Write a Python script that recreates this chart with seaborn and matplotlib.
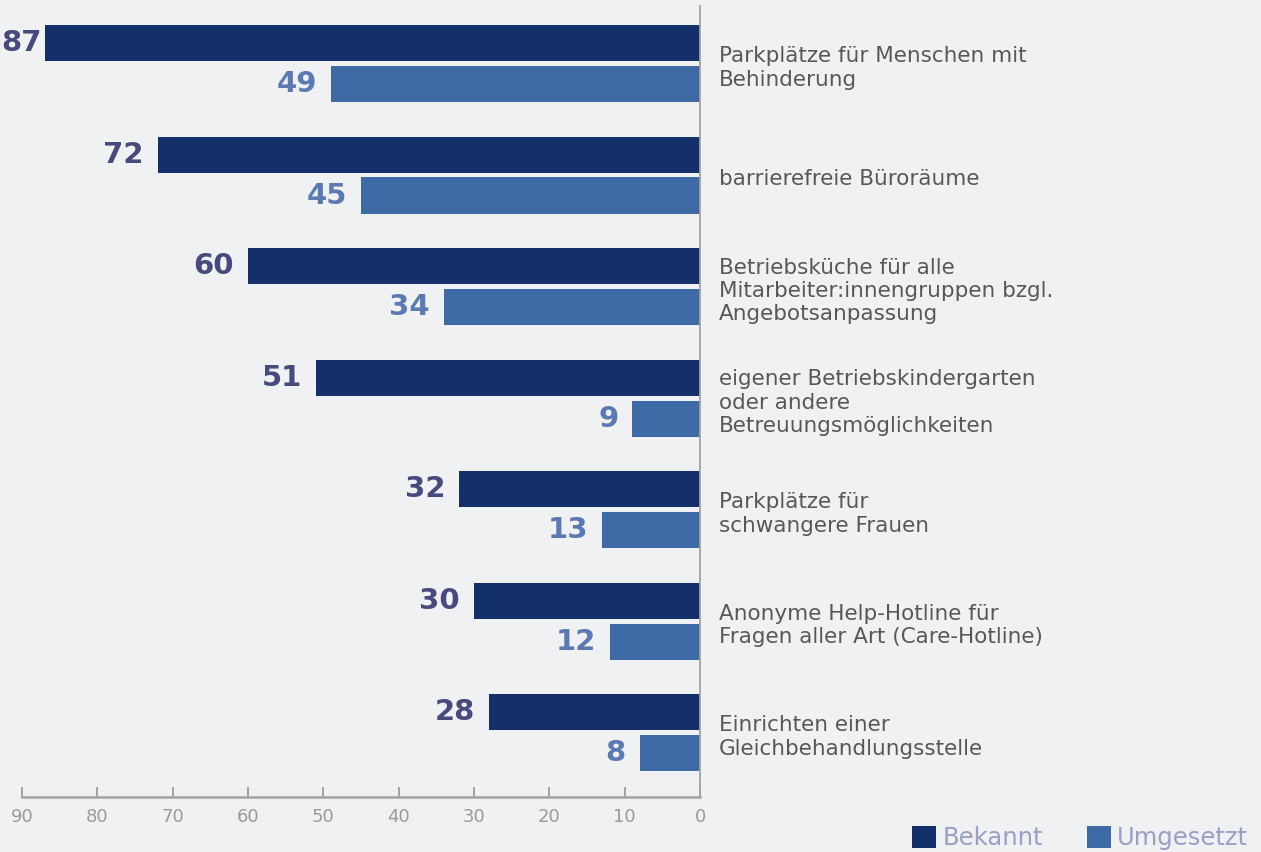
import matplotlib
matplotlib.use("Agg")
import matplotlib.pyplot as plt
import matplotlib.transforms as mtransforms
from matplotlib.patches import Patch
import seaborn as sns
import pandas as pd

# ---- data ----
categories = [
    "Parkplätze für Menschen mit\nBehinderung",
    "barrierefreie Büroräume",
    "Betriebsküche für alle\nMitarbeiter:innengruppen bzgl.\nAngebotsanpassung",
    "eigener Betriebskindergarten\noder andere\nBetreuungsmöglichkeiten",
    "Parkplätze für\nschwangere Frauen",
    "Anonyme Help-Hotline für\nFragen aller Art (Care-Hotline)",
    "Einrichten einer\nGleichbehandlungsstelle",
]
bekannt = [87, 72, 60, 51, 32, 30, 28]
umgesetzt = [49, 45, 34, 9, 13, 12, 8]
series = ["Bekannt", "Umgesetzt"]
x_ticks = [90, 80, 70, 60, 50, 40, 30, 20, 10, 0]

# ---- style ----
BG = "#f0f1f3"
DARK = "#13306a"
LIGHT = "#3e6ba6"
DARK_LBL = "#474a7c"
LIGHT_LBL = "#5b79b3"
LEG_TXT = "#9c9ec6"
CAT_TXT = "#585858"
AX_COL = "#a3a3a3"

df = pd.DataFrame({
    "Kategorie": categories * 2,
    "Reihe": [series[0]] * len(categories) + [series[1]] * len(categories),
    "Wert": bekannt + umgesetzt,
})

sns.set_theme(style="white")
plt.rcParams["font.family"] = ["DejaVu Sans"]

W, H = 1261, 852
fig = plt.figure(figsize=(W / 100, H / 100), dpi=100, facecolor=BG)
ax = fig.add_axes([22 / W, 55 / H, 678 / W, 791 / H])
ax.set_facecolor(BG)

sns.barplot(
    data=df, y="Kategorie", x="Wert", hue="Reihe",
    order=categories, hue_order=series, palette=[DARK, LIGHT],
    width=0.735, gap=0.12, orient="h", saturation=1,
    errorbar=None, legend=False, ax=ax, linewidth=0,
)

ax.set_xlim(90, 0)
ax.set_ylim(6.578, -0.516)
ax.set_xlabel("")
ax.set_ylabel("")

for s in ["top", "left"]:
    ax.spines[s].set_visible(False)
ax.spines["right"].set_color(AX_COL)
ax.spines["right"].set_linewidth(1.3)
ax.spines["bottom"].set_color(AX_COL)
ax.spines["bottom"].set_linewidth(1.8)

ax.set_xticks(x_ticks)
ax.set_xticklabels([str(t) for t in x_ticks])
ax.tick_params(axis="x", direction="in", length=7, width=1.1, color="#8a8a8a",
               labelsize=13, labelcolor="#9a9a9a", pad=8, bottom=True)
ax.set_yticks([])

# value labels at the outer end of each bar
lbl_cols = [DARK_LBL, LIGHT_LBL]
vals = [bekannt, umgesetzt]
px_per_unit = 678 / 90
for cont, col, v in zip(ax.containers, lbl_cols, vals):
    for patch, val in zip(cont.patches, v):
        yc = patch.get_y() + patch.get_height() / 2
        room = 678 - val * px_per_unit  # pixels left of the bar end inside the axes
        pad = 10 if room > 22 + 14 + 42 - 22 else 2
        ax.annotate(str(val), xy=(val, yc), xytext=(-pad, 0),
                    textcoords="offset points", ha="right", va="center",
                    fontsize=21, fontweight="bold", color=col,
                    annotation_clip=False)

# category labels right of the zero line
trans = mtransforms.blended_transform_factory(ax.transAxes, ax.transData)
for i, cat in enumerate(categories):
    ax.text(1 + 19 / 678, i + 0.04, cat, transform=trans, ha="left",
            va="center", fontsize=15.5, color=CAT_TXT, linespacing=1.2)

handles = [Patch(facecolor=DARK, edgecolor="none"), Patch(facecolor=LIGHT, edgecolor="none")]
leg = fig.legend(handles, series, loc="center right",
                 bbox_to_anchor=(1248 / W, 1 - 838 / H), ncol=2, frameon=False,
                 fontsize=17.5, handlelength=1.0, handleheight=1.0,
                 handletextpad=0.25, columnspacing=1.8, borderpad=0, borderaxespad=0)
for t in leg.get_texts():
    t.set_color(LEG_TXT)

fig.savefig("out.png", dpi=100, facecolor=BG)
